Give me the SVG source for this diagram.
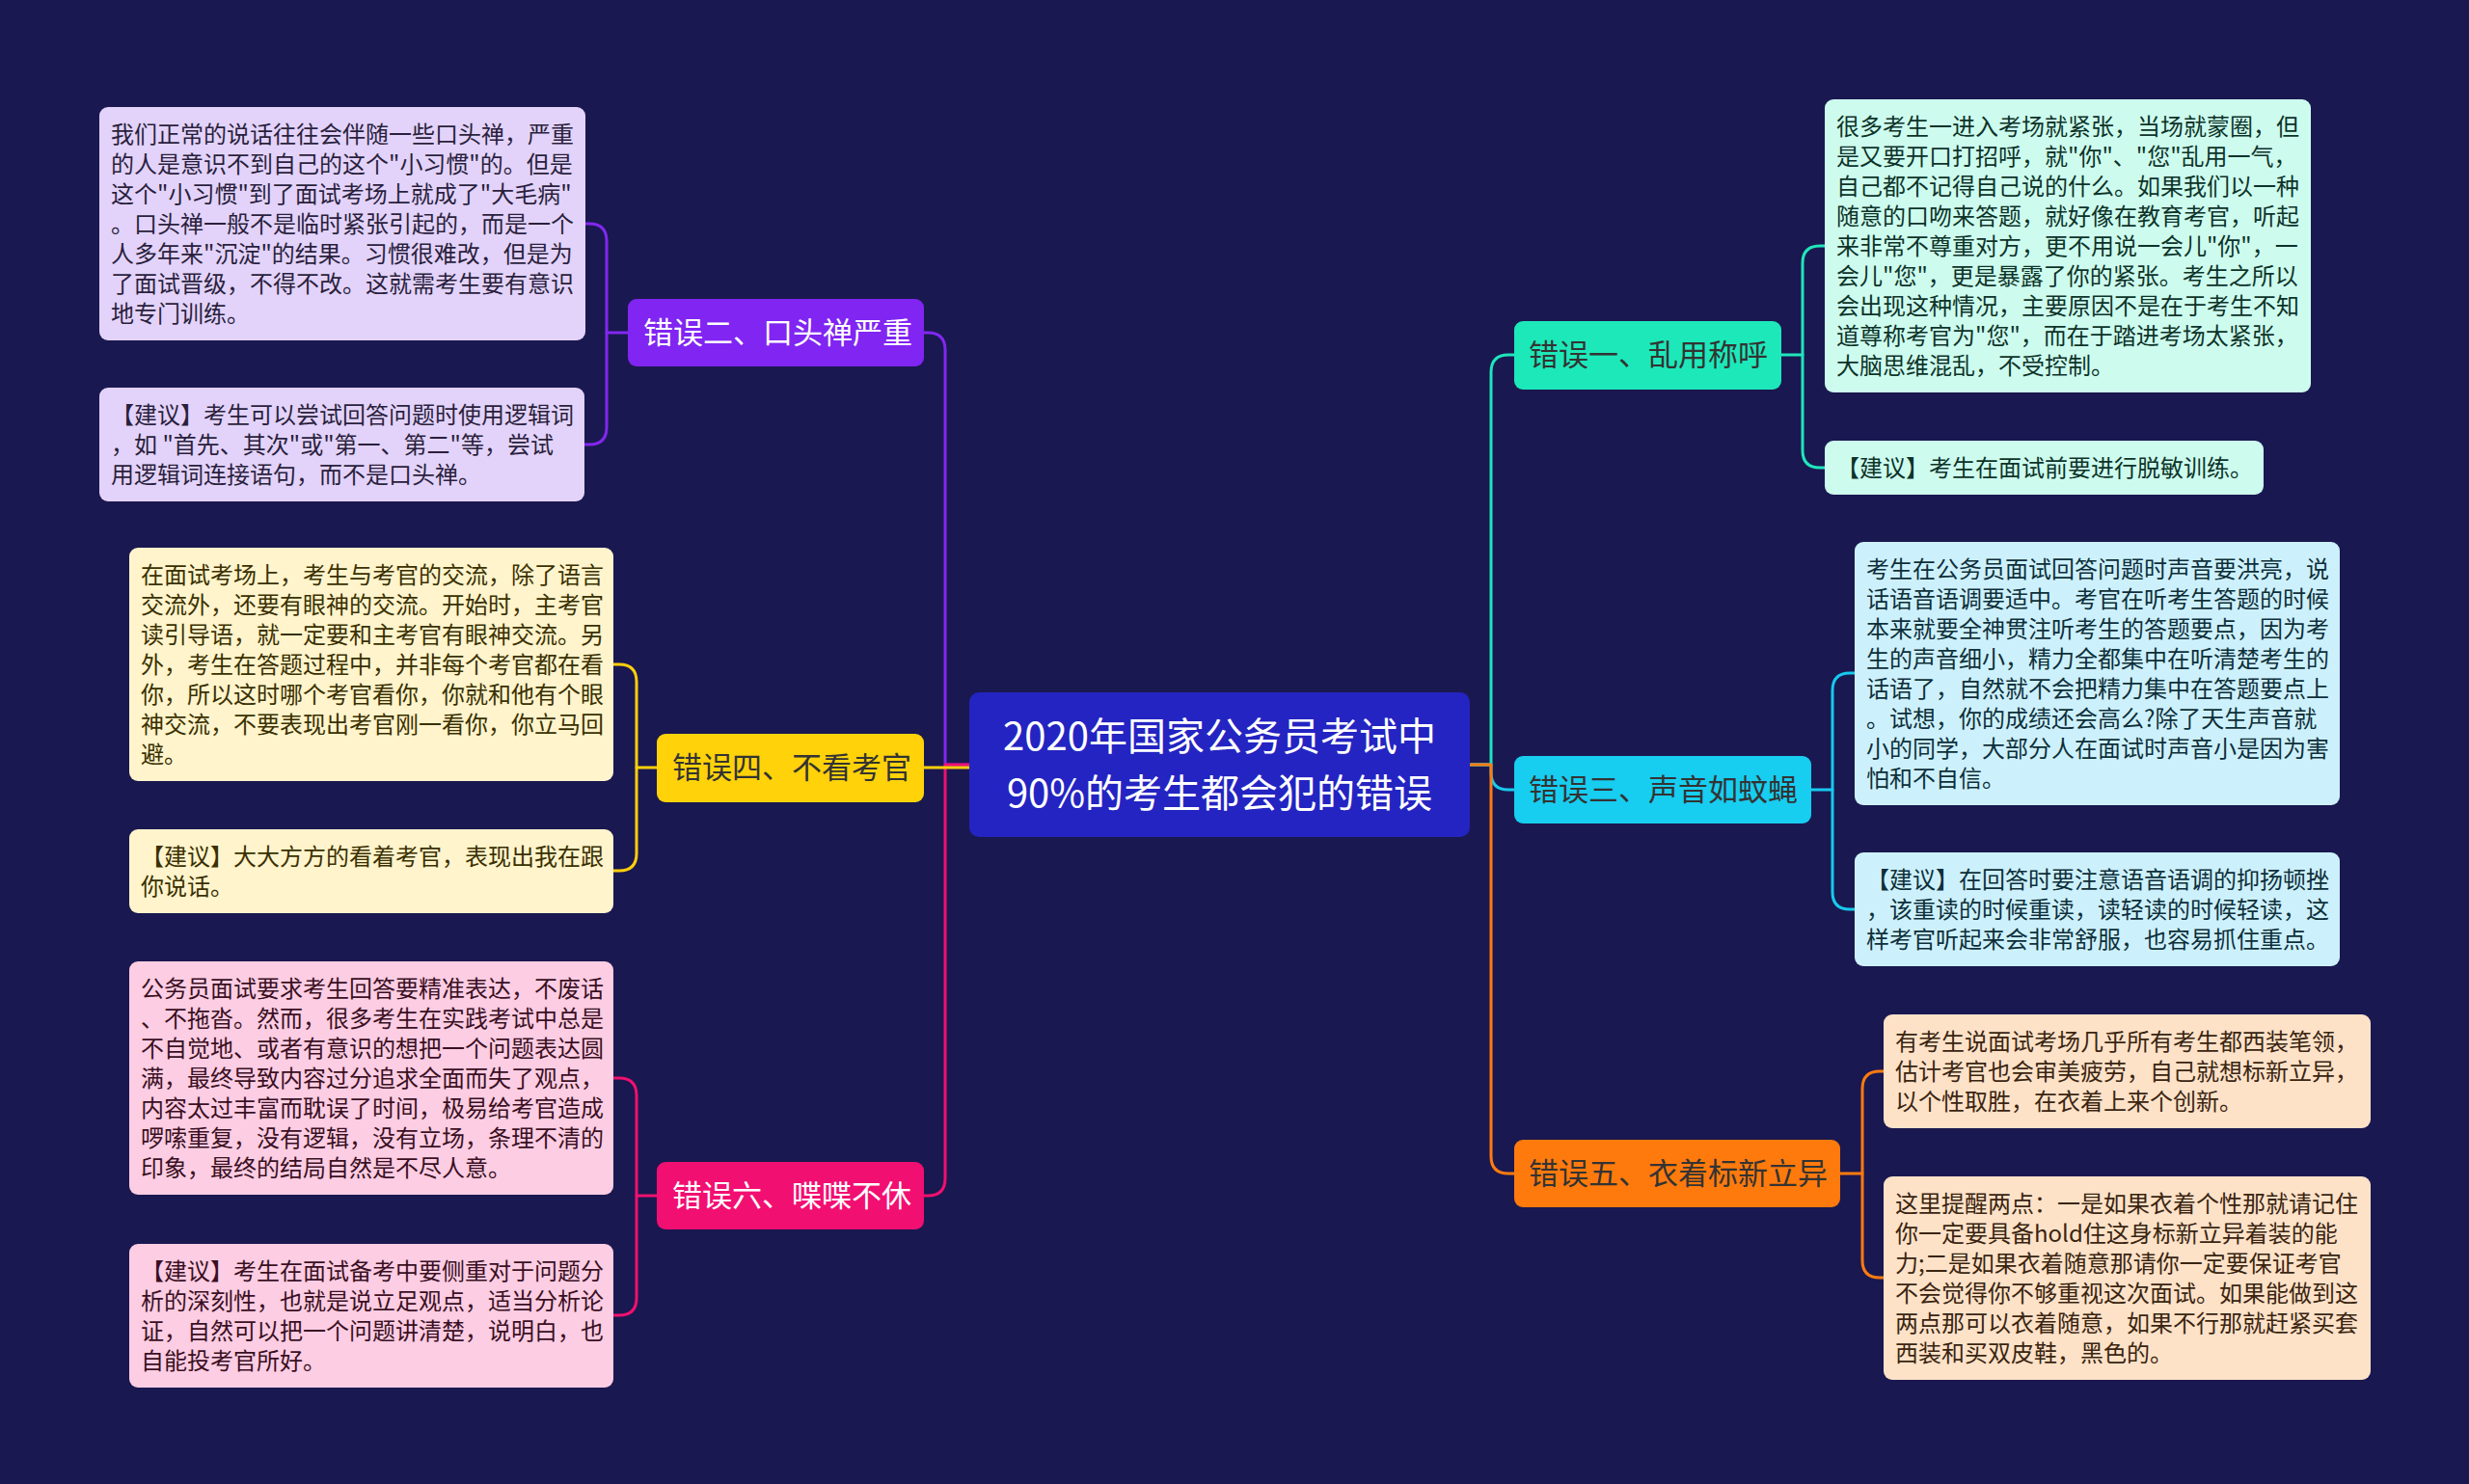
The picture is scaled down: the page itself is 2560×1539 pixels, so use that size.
<svg xmlns="http://www.w3.org/2000/svg" width="2560" height="1539" viewBox="0 0 2560 1539">
<style>
text{font-family:"Noto Sans CJK SC","Noto Sans",sans-serif;}
.bg{fill:#1a1850;}
.center-box{fill:#2424c2;}
.center-txt{font-size:40px;fill:#ffffff;text-anchor:middle;}
.br-txt{font-size:31px;}
.leaf-txt{font-size:24px;}
.conn{fill:none;stroke-width:3;stroke-linecap:round;stroke-linejoin:round;}
.c-purple{stroke:#8227f0;}
.c-yellow{stroke:#ffcf0a;}
.c-pink{stroke:#f0106f;}
.c-teal{stroke:#1fe6bc;}
.c-cyan{stroke:#17c9ee;}
.c-orange{stroke:#ff7b10;}
</style>
<rect class="bg" x="0" y="0" width="2560" height="1539"/>

<g id="connectors">
  <path class="conn c-purple" d="M1005,793 H980 V363 Q980,345 962,345 H958"/>
  <path class="conn c-pink" d="M1005,793 H980 V1222 Q980,1240 962,1240 H958"/>
  <path class="conn c-yellow" d="M1005,796 H958"/>
  <path class="conn c-teal" d="M1525,793 H1546 V386 Q1546,368 1564,368 H1570"/>
  <path class="conn c-cyan" d="M1525,793 H1546 V801 Q1546,819 1564,819 H1570"/>
  <path class="conn c-orange" d="M1525,793 H1546 V1199 Q1546,1217 1564,1217 H1570"/>

  <path class="conn c-purple" d="M651,345 H629"/>
  <path class="conn c-purple" d="M607,232 H611 Q629,232 629,250 V443 Q629,461 611,461 H606"/>
  <path class="conn c-yellow" d="M681,796 H660"/>
  <path class="conn c-yellow" d="M636,689 H642 Q660,689 660,707 V885 Q660,903 642,903 H636"/>
  <path class="conn c-pink" d="M681,1240 H660"/>
  <path class="conn c-pink" d="M636,1118 H642 Q660,1118 660,1136 V1346 Q660,1364 642,1364 H636"/>

  <path class="conn c-teal" d="M1847,368 H1869"/>
  <path class="conn c-teal" d="M1892,255 H1887 Q1869,255 1869,273 V467 Q1869,485 1887,485 H1892"/>
  <path class="conn c-cyan" d="M1878,819 H1900"/>
  <path class="conn c-cyan" d="M1923,698 H1918 Q1900,698 1900,716 V925 Q1900,943 1918,943 H1923"/>
  <path class="conn c-orange" d="M1908,1217 H1931"/>
  <path class="conn c-orange" d="M1953,1111 H1949 Q1931,1111 1931,1129 V1307 Q1931,1325 1949,1325 H1953"/>
</g>

<g id="center">
  <rect class="center-box" x="1005" y="718" width="519" height="150" rx="10"/>
  <text class="center-txt" x="1264.5" y="778">2020年国家公务员考试中</text>
  <text class="center-txt" x="1264.5" y="837">90%的考生都会犯的错误</text>
</g>

<g id="branch-2">
  <rect x="651" y="310" width="307" height="70" rx="9" fill="#8025f2"/>
  <text class="br-txt" x="667" y="356" fill="#ffffff">错误二、口头禅严重</text>
</g>
<g id="branch-4">
  <rect x="681" y="761" width="277" height="71" rx="9" fill="#ffd20a"/>
  <text class="br-txt" x="697" y="807" fill="#333333">错误四、不看考官</text>
</g>
<g id="branch-6">
  <rect x="681" y="1205" width="277" height="70" rx="9" fill="#f20f72"/>
  <text class="br-txt" x="697" y="1251" fill="#ffffff">错误六、喋喋不休</text>
</g>
<g id="branch-1">
  <rect x="1570" y="333" width="277" height="71" rx="9" fill="#1de8b9"/>
  <text class="br-txt" x="1585" y="379" fill="#333333">错误一、乱用称呼</text>
</g>
<g id="branch-3">
  <rect x="1570" y="784" width="308" height="70" rx="9" fill="#17cdf0"/>
  <text class="br-txt" x="1585" y="830" fill="#333333">错误三、声音如蚊蝇</text>
</g>
<g id="branch-5">
  <rect x="1570" y="1182" width="338" height="70" rx="9" fill="#ff7a0d"/>
  <text class="br-txt" x="1585" y="1228" fill="#333333">错误五、衣着标新立异</text>
</g>

<g id="leaf-2a">
  <rect x="103" y="111" width="504" height="242" rx="9" fill="#e3d3fa"/>
  <text class="leaf-txt" fill="#2a1f3d">
    <tspan x="115" y="148">我们正常的说话往往会伴随一些口头禅，严重</tspan>
    <tspan x="115" y="179">的人是意识不到自己的这个"小习惯"的。但是</tspan>
    <tspan x="115" y="210">这个"小习惯"到了面试考场上就成了"大毛病"</tspan>
    <tspan x="115" y="241">。口头禅一般不是临时紧张引起的，而是一个</tspan>
    <tspan x="115" y="272">人多年来"沉淀"的结果。习惯很难改，但是为</tspan>
    <tspan x="115" y="303">了面试晋级，不得不改。这就需考生要有意识</tspan>
    <tspan x="115" y="334">地专门训练。</tspan>
  </text>
</g>
<g id="leaf-2b">
  <rect x="103" y="402" width="503" height="118" rx="9" fill="#e3d3fa"/>
  <text class="leaf-txt" fill="#2a1f3d">
    <tspan x="115" y="439">【建议】考生可以尝试回答问题时使用逻辑词</tspan>
    <tspan x="115" y="470">，如 "首先、其次"或"第一、第二"等，尝试</tspan>
    <tspan x="115" y="501">用逻辑词连接语句，而不是口头禅。</tspan>
  </text>
</g>
<g id="leaf-4a">
  <rect x="134" y="568" width="502" height="242" rx="9" fill="#fff4cc"/>
  <text class="leaf-txt" fill="#3a3000">
    <tspan x="146" y="605">在面试考场上，考生与考官的交流，除了语言</tspan>
    <tspan x="146" y="636">交流外，还要有眼神的交流。开始时，主考官</tspan>
    <tspan x="146" y="667">读引导语，就一定要和主考官有眼神交流。另</tspan>
    <tspan x="146" y="698">外，考生在答题过程中，并非每个考官都在看</tspan>
    <tspan x="146" y="729">你，所以这时哪个考官看你，你就和他有个眼</tspan>
    <tspan x="146" y="760">神交流，不要表现出考官刚一看你，你立马回</tspan>
    <tspan x="146" y="791">避。</tspan>
  </text>
</g>
<g id="leaf-4b">
  <rect x="134" y="860" width="502" height="87" rx="9" fill="#fff4cc"/>
  <text class="leaf-txt" fill="#3a3000">
    <tspan x="146" y="897">【建议】大大方方的看着考官，表现出我在跟</tspan>
    <tspan x="146" y="928">你说话。</tspan>
  </text>
</g>
<g id="leaf-6a">
  <rect x="134" y="997" width="502" height="242" rx="9" fill="#fccde3"/>
  <text class="leaf-txt" fill="#3a0f22">
    <tspan x="146" y="1034">公务员面试要求考生回答要精准表达，不废话</tspan>
    <tspan x="146" y="1065">、不拖沓。然而，很多考生在实践考试中总是</tspan>
    <tspan x="146" y="1096">不自觉地、或者有意识的想把一个问题表达圆</tspan>
    <tspan x="146" y="1127">满，最终导致内容过分追求全面而失了观点，</tspan>
    <tspan x="146" y="1158">内容太过丰富而耽误了时间，极易给考官造成</tspan>
    <tspan x="146" y="1189">啰嗦重复，没有逻辑，没有立场，条理不清的</tspan>
    <tspan x="146" y="1220">印象，最终的结局自然是不尽人意。</tspan>
  </text>
</g>
<g id="leaf-6b">
  <rect x="134" y="1290" width="502" height="149" rx="9" fill="#fccde3"/>
  <text class="leaf-txt" fill="#3a0f22">
    <tspan x="146" y="1327">【建议】考生在面试备考中要侧重对于问题分</tspan>
    <tspan x="146" y="1358">析的深刻性，也就是说立足观点，适当分析论</tspan>
    <tspan x="146" y="1389">证，自然可以把一个问题讲清楚，说明白，也</tspan>
    <tspan x="146" y="1420">自能投考官所好。</tspan>
  </text>
</g>

<g id="leaf-1a">
  <rect x="1892" y="103" width="504" height="304" rx="9" fill="#cdfcef"/>
  <text class="leaf-txt" fill="#0d3328">
    <tspan x="1904" y="140">很多考生一进入考场就紧张，当场就蒙圈，但</tspan>
    <tspan x="1904" y="171">是又要开口打招呼，就"你"、"您"乱用一气，</tspan>
    <tspan x="1904" y="202">自己都不记得自己说的什么。如果我们以一种</tspan>
    <tspan x="1904" y="233">随意的口吻来答题，就好像在教育考官，听起</tspan>
    <tspan x="1904" y="264">来非常不尊重对方，更不用说一会儿"你"，一</tspan>
    <tspan x="1904" y="295">会儿"您"，更是暴露了你的紧张。考生之所以</tspan>
    <tspan x="1904" y="326">会出现这种情况，主要原因不是在于考生不知</tspan>
    <tspan x="1904" y="357">道尊称考官为"您"，而在于踏进考场太紧张，</tspan>
    <tspan x="1904" y="388">大脑思维混乱，不受控制。</tspan>
  </text>
</g>
<g id="leaf-1b">
  <rect x="1892" y="457" width="455" height="56" rx="9" fill="#cdfcef"/>
  <text class="leaf-txt" fill="#0d3328">
    <tspan x="1904" y="494">【建议】考生在面试前要进行脱敏训练。</tspan>
  </text>
</g>
<g id="leaf-3a">
  <rect x="1923" y="562" width="503" height="273" rx="9" fill="#cdf1fc"/>
  <text class="leaf-txt" fill="#0d2f3a">
    <tspan x="1935" y="599">考生在公务员面试回答问题时声音要洪亮，说</tspan>
    <tspan x="1935" y="630">话语音语调要适中。考官在听考生答题的时候</tspan>
    <tspan x="1935" y="661">本来就要全神贯注听考生的答题要点，因为考</tspan>
    <tspan x="1935" y="692">生的声音细小，精力全都集中在听清楚考生的</tspan>
    <tspan x="1935" y="723">话语了，自然就不会把精力集中在答题要点上</tspan>
    <tspan x="1935" y="754">。试想，你的成绩还会高么?除了天生声音就</tspan>
    <tspan x="1935" y="785">小的同学，大部分人在面试时声音小是因为害</tspan>
    <tspan x="1935" y="816">怕和不自信。</tspan>
  </text>
</g>
<g id="leaf-3b">
  <rect x="1923" y="884" width="503" height="118" rx="9" fill="#cdf1fc"/>
  <text class="leaf-txt" fill="#0d2f3a">
    <tspan x="1935" y="921">【建议】在回答时要注意语音语调的抑扬顿挫</tspan>
    <tspan x="1935" y="952">，该重读的时候重读，读轻读的时候轻读，这</tspan>
    <tspan x="1935" y="983">样考官听起来会非常舒服，也容易抓住重点。</tspan>
  </text>
</g>
<g id="leaf-5a">
  <rect x="1953" y="1052" width="505" height="118" rx="9" fill="#fde2c8"/>
  <text class="leaf-txt" fill="#3a2410">
    <tspan x="1965" y="1089">有考生说面试考场几乎所有考生都西装笔领，</tspan>
    <tspan x="1965" y="1120">估计考官也会审美疲劳，自己就想标新立异，</tspan>
    <tspan x="1965" y="1151">以个性取胜，在衣着上来个创新。</tspan>
  </text>
</g>
<g id="leaf-5b">
  <rect x="1953" y="1220" width="505" height="211" rx="9" fill="#fde2c8"/>
  <text class="leaf-txt" fill="#3a2410">
    <tspan x="1965" y="1257">这里提醒两点：一是如果衣着个性那就请记住</tspan>
    <tspan x="1965" y="1288">你一定要具备hold住这身标新立异着装的能</tspan>
    <tspan x="1965" y="1319">力;二是如果衣着随意那请你一定要保证考官</tspan>
    <tspan x="1965" y="1350">不会觉得你不够重视这次面试。如果能做到这</tspan>
    <tspan x="1965" y="1381">两点那可以衣着随意，如果不行那就赶紧买套</tspan>
    <tspan x="1965" y="1412">西装和买双皮鞋，黑色的。</tspan>
  </text>
</g>
</svg>
